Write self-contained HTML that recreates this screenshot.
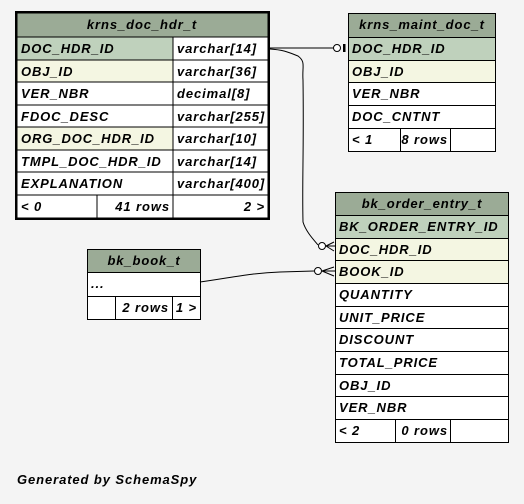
<!DOCTYPE html>
<html><head><style>
body{margin:0;background:#f4f4f4;}
svg text{font-family:"Liberation Sans",sans-serif;font-weight:bold;font-style:italic;font-size:13px;fill:#000;letter-spacing:0.9px}
</style></head><body>
<svg width="524" height="499" xmlns="http://www.w3.org/2000/svg">
<rect width="524" height="499" fill="#f4f4f4"/>
<g stroke="#000" stroke-width="1">
<rect x="17" y="13" width="251" height="24" fill="#9bab96"/>
<rect x="17" y="37" width="156" height="23" fill="#bfd1bc"/><rect x="173" y="37" width="95" height="23" fill="#fff"/>
<rect x="17" y="60" width="156" height="22" fill="#f4f6e2"/><rect x="173" y="60" width="95" height="22" fill="#fff"/>
<rect x="17" y="82" width="156" height="23" fill="#fff"/><rect x="173" y="82" width="95" height="23" fill="#fff"/>
<rect x="17" y="105" width="156" height="22" fill="#fff"/><rect x="173" y="105" width="95" height="22" fill="#fff"/>
<rect x="17" y="127" width="156" height="23" fill="#f4f6e2"/><rect x="173" y="127" width="95" height="23" fill="#fff"/>
<rect x="17" y="150" width="156" height="22" fill="#fff"/><rect x="173" y="150" width="95" height="22" fill="#fff"/>
<rect x="17" y="172" width="156" height="23" fill="#fff"/><rect x="173" y="172" width="95" height="23" fill="#fff"/>
<rect x="17" y="195" width="80" height="23" fill="#fff"/><rect x="97" y="195" width="76" height="23" fill="#fff"/><rect x="173" y="195" width="95" height="23" fill="#fff"/>
<rect x="16" y="12" width="253" height="207" fill="none" stroke-width="2"/>
</g>
<text x="142" y="29" text-anchor="middle">krns_doc_hdr_t</text>
<text x="21" y="53">DOC_HDR_ID</text><text x="177" y="53">varchar[14]</text>
<text x="21" y="76">OBJ_ID</text><text x="177" y="76">varchar[36]</text>
<text x="21" y="98">VER_NBR</text><text x="177" y="98">decimal[8]</text>
<text x="21" y="121">FDOC_DESC</text><text x="177" y="121">varchar[255]</text>
<text x="21" y="143">ORG_DOC_HDR_ID</text><text x="177" y="143">varchar[10]</text>
<text x="21" y="166">TMPL_DOC_HDR_ID</text><text x="177" y="166">varchar[14]</text>
<text x="21" y="188">EXPLANATION</text><text x="177" y="188">varchar[400]</text>
<text x="21" y="211">&lt; 0</text><text x="170" y="211" text-anchor="end">41 rows</text><text x="265" y="211" text-anchor="end">2 &gt;</text>

<g stroke="#000" stroke-width="1">
<rect x="348.5" y="13.5" width="147" height="24" fill="#9bab96"/>
<rect x="348.5" y="37.5" width="147" height="23" fill="#bfd1bc"/>
<rect x="348.5" y="60.5" width="147" height="22" fill="#f4f6e2"/>
<rect x="348.5" y="82.5" width="147" height="23" fill="#fff"/>
<rect x="348.5" y="105.5" width="147" height="23" fill="#fff"/>
<rect x="348.5" y="128.5" width="52" height="23" fill="#fff"/><rect x="400.5" y="128.5" width="50" height="23" fill="#fff"/><rect x="450.5" y="128.5" width="45" height="23" fill="#fff"/>
</g>
<text x="422" y="29" text-anchor="middle">krns_maint_doc_t</text>
<text x="352" y="53">DOC_HDR_ID</text>
<text x="352" y="76">OBJ_ID</text>
<text x="352" y="98">VER_NBR</text>
<text x="352" y="121">DOC_CNTNT</text>
<text x="352" y="144">&lt; 1</text><text x="448" y="144" text-anchor="end">8 rows</text>

<g stroke="#000" stroke-width="1">
<rect x="335.5" y="192.5" width="173" height="23" fill="#9bab96"/>
<rect x="335.5" y="215.5" width="173" height="23" fill="#bfd1bc"/>
<rect x="335.5" y="238.5" width="173" height="22" fill="#f4f6e2"/>
<rect x="335.5" y="260.5" width="173" height="23" fill="#f4f6e2"/>
<rect x="335.5" y="283.5" width="173" height="23" fill="#fff"/>
<rect x="335.5" y="306.5" width="173" height="22" fill="#fff"/>
<rect x="335.5" y="328.5" width="173" height="23" fill="#fff"/>
<rect x="335.5" y="351.5" width="173" height="23" fill="#fff"/>
<rect x="335.5" y="374.5" width="173" height="22" fill="#fff"/>
<rect x="335.5" y="396.5" width="173" height="23" fill="#fff"/>
<rect x="335.5" y="419.5" width="60" height="23" fill="#fff"/><rect x="395.5" y="419.5" width="55" height="23" fill="#fff"/><rect x="450.5" y="419.5" width="58" height="23" fill="#fff"/>
</g>
<text x="422" y="208" text-anchor="middle">bk_order_entry_t</text>
<text x="339" y="231">BK_ORDER_ENTRY_ID</text>
<text x="339" y="254">DOC_HDR_ID</text>
<text x="339" y="276">BOOK_ID</text>
<text x="339" y="299">QUANTITY</text>
<text x="339" y="322">UNIT_PRICE</text>
<text x="339" y="344">DISCOUNT</text>
<text x="339" y="367">TOTAL_PRICE</text>
<text x="339" y="390">OBJ_ID</text>
<text x="339" y="412">VER_NBR</text>
<text x="339" y="435">&lt; 2</text><text x="448" y="435" text-anchor="end">0 rows</text>

<g stroke="#000" stroke-width="1">
<rect x="87.5" y="249.5" width="113" height="23" fill="#9bab96"/>
<rect x="87.5" y="272.5" width="113" height="24" fill="#fff"/>
<rect x="87.5" y="296.5" width="28" height="23" fill="#fff"/><rect x="115.5" y="296.5" width="57" height="23" fill="#fff"/><rect x="172.5" y="296.5" width="28" height="23" fill="#fff"/>
</g>
<text x="144" y="265" text-anchor="middle">bk_book_t</text>
<text x="91" y="288">...</text>
<text x="169" y="312" text-anchor="end">2 rows</text><text x="197" y="312" text-anchor="end">1 &gt;</text>

<g fill="none" stroke="#000" stroke-width="1">
<path d="M270 48 L334 48"/>
<circle cx="337" cy="48" r="3.5" fill="#fff"/>
<rect x="343" y="44" width="2.5" height="8" fill="#000" stroke="none"/>
<path d="M270 49 C285 50 290 53 298 56 C306 62 302 66 303 80 C304 150 302 180 303 222 C306 232 314 240 318 245"/>
<circle cx="322" cy="246" r="3.5" fill="#fff"/>
<path d="M326 246 L335 246 M326 246 L334 242 M326 246 L334 251"/>
<path d="M200 282 C230 278 250 273 280 272 L314 271"/>
<circle cx="318" cy="271" r="3.5" fill="#fff"/>
<path d="M322 271 L335 271 M322 271 L334 267 M322 271 L334 276"/>
</g>
<text x="17" y="484">Generated by SchemaSpy</text>
</svg>
</body></html>
